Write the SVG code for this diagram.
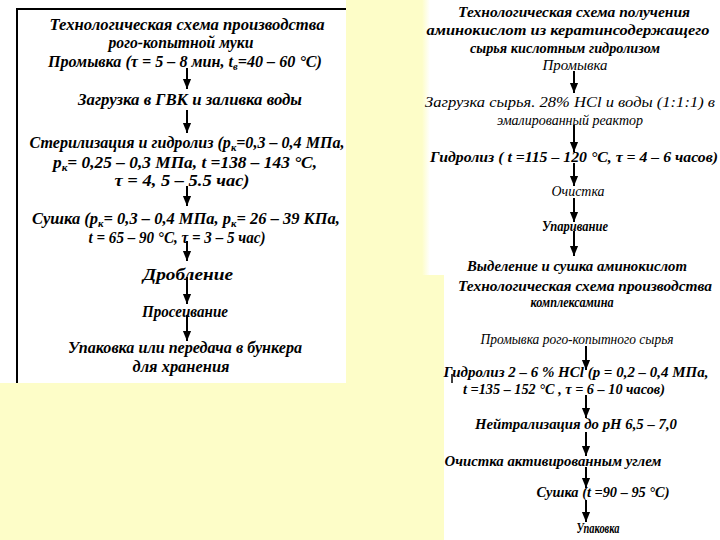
<svg xmlns="http://www.w3.org/2000/svg" width="720" height="540" viewBox="0 0 720 540">
<defs>
<marker id="arr" markerUnits="userSpaceOnUse" markerWidth="10" markerHeight="12" refX="11" refY="4.5" orient="auto" viewBox="0 0 11 9">
<path d="M0,0 L11,4.5 L0,9 Z" fill="#000"/>
</marker>
<linearGradient id="fade" x1="0" x2="1" y1="0" y2="0">
<stop offset="0" stop-color="#fdfdc8"/>
<stop offset="1" stop-color="#ffffff"/>
</linearGradient>
</defs>
<style>
text{font-family:"Liberation Serif","DejaVu Serif","Times New Roman",serif;font-style:italic;font-weight:bold;fill:#000;text-anchor:middle}
.l{font-size:17px}
.r{font-size:15px}
.n{font-weight:normal}
.c line{stroke:#000;stroke-width:2;marker-end:url(#arr)}
</style>
<rect x="0" y="0" width="720" height="540" fill="#fdfdc8"/>
<rect x="0" y="0" width="346" height="383" fill="#fff"/>
<rect x="430" y="0" width="290" height="275" fill="#fff"/>
<rect x="422" y="0" width="8" height="275" fill="url(#fade)"/>
<rect x="444" y="275" width="276" height="265" fill="#fff"/>
<line x1="17" y1="8" x2="17" y2="383" stroke="#000" stroke-width="2"/>
<line x1="17" y1="9" x2="346" y2="9" stroke="#000" stroke-width="2"/>
<line x1="452" y1="374" x2="452" y2="383" stroke="#000" stroke-width="1.5"/>

<g id="left-title">
<text class="l" x="187" y="30" textLength="275" lengthAdjust="spacingAndGlyphs">Технологическая схема производства</text>
<text class="l" x="181" y="48" textLength="145" lengthAdjust="spacingAndGlyphs">рого-копытной муки</text>
</g>
<g id="l-promyvka"><text class="l" x="185" y="67" textLength="274" lengthAdjust="spacingAndGlyphs">Промывка (τ = 5 – 8 мин, t<tspan font-size="11" dy="3">в</tspan><tspan dy="-3">=40 – 60 °C)</tspan></text></g>
<g id="l-zagruzka"><text class="l" x="190" y="105" textLength="224" lengthAdjust="spacingAndGlyphs">Загрузка в ГВК и заливка воды</text></g>
<g id="l-steril">
<text class="l" x="187" y="148" textLength="315" lengthAdjust="spacingAndGlyphs">Стерилизация и гидролиз (p<tspan font-size="11" dy="3">к</tspan><tspan dy="-3">=0,3 – 0,4 МПа,</tspan></text>
<text class="l" x="185" y="168" textLength="264" lengthAdjust="spacingAndGlyphs">p<tspan font-size="11" dy="3">к</tspan><tspan dy="-3">= 0,25 – 0,3 МПа,  t =138 – 143 °C,</tspan></text>
<text class="l" x="182" y="186" textLength="135" lengthAdjust="spacingAndGlyphs">τ = 4, 5 – 5.5 час)</text>
</g>
<g id="l-sushka">
<text class="l" x="186" y="224" textLength="308" lengthAdjust="spacingAndGlyphs">Сушка (p<tspan font-size="11" dy="3">к</tspan><tspan dy="-3">= 0,3 – 0,4 МПа, p</tspan><tspan font-size="11" dy="3">к</tspan><tspan dy="-3">= 26 – 39 КПа,</tspan></text>
<text class="l" x="177" y="243" textLength="177" lengthAdjust="spacingAndGlyphs">t = 65 – 90 °C, τ = 3 – 5 час)</text>
</g>
<g id="l-drob"><text class="l" x="188" y="280" textLength="90" lengthAdjust="spacingAndGlyphs">Дробление</text></g>
<g id="l-prosev"><text class="l" x="185" y="317" textLength="86" lengthAdjust="spacingAndGlyphs">Просеивание</text></g>
<g id="l-upak">
<text class="l" x="185" y="353" textLength="234" lengthAdjust="spacingAndGlyphs">Упаковка или передача в бункера</text>
<text class="l" x="181" y="372" textLength="97" lengthAdjust="spacingAndGlyphs">для хранения</text>
</g>

<g id="rt-title">
<text class="r" x="574" y="17" textLength="232" lengthAdjust="spacingAndGlyphs">Технологическая схема получения</text>
<text class="r" x="568" y="35" textLength="283" lengthAdjust="spacingAndGlyphs">аминокислот из кератинсодержащего</text>
<text class="r" x="565" y="53" textLength="190" lengthAdjust="spacingAndGlyphs">сырья кислотным гидролизом</text>
</g>
<g id="rt-promyvka"><text class="r n" x="575" y="70" textLength="65" lengthAdjust="spacingAndGlyphs">Промывка</text></g>
<g id="rt-zagruzka">
<text class="r n" x="570" y="107" textLength="290" lengthAdjust="spacingAndGlyphs">Загрузка сырья. 28% HCl и воды (1:1:1) в</text>
<text class="r n" x="570" y="125" textLength="146" lengthAdjust="spacingAndGlyphs">эмалированный реактор</text>
</g>
<g id="rt-gidroliz"><text class="r" x="574" y="162" textLength="288" lengthAdjust="spacingAndGlyphs">Гидролиз ( t =115 – 120 °C, τ = 4 – 6 часов)</text></g>
<g id="rt-ochistka"><text class="r n" x="578" y="196" textLength="53" lengthAdjust="spacingAndGlyphs">Очистка</text></g>
<g id="rt-uparivanie"><text class="r" x="575" y="231" textLength="66" lengthAdjust="spacingAndGlyphs">Упаривание</text></g>
<g id="rt-vydelenie"><text class="r" x="577" y="271" textLength="220" lengthAdjust="spacingAndGlyphs">Выделение и сушка аминокислот</text></g>

<g id="rb-title">
<text class="r" x="585" y="291" textLength="254" lengthAdjust="spacingAndGlyphs">Технологическая схема производства</text>
<text class="r" x="572" y="307" textLength="83" lengthAdjust="spacingAndGlyphs">комплексамина</text>
</g>
<g id="rb-promyvka"><text class="r n" x="577" y="344" textLength="193" lengthAdjust="spacingAndGlyphs">Промывка рого-копытного сырья</text></g>
<g id="rb-gidroliz">
<text class="r" x="576" y="377" textLength="265" lengthAdjust="spacingAndGlyphs">Гидролиз  2 – 6 % HCl (p = 0,2 – 0,4 МПа,</text>
<text class="r" x="564" y="394" textLength="202" lengthAdjust="spacingAndGlyphs">t =135 – 152 °C , τ = 6 – 10 часов)</text>
</g>
<g id="rb-neitr"><text class="r" x="576" y="429" textLength="202" lengthAdjust="spacingAndGlyphs">Нейтрализация до pH 6,5 – 7,0</text></g>
<g id="rb-ochistka"><text class="r" x="553" y="466" textLength="217" lengthAdjust="spacingAndGlyphs">Очистка активированным углем</text></g>
<g id="rb-sushka"><text class="r" x="603" y="497" textLength="133" lengthAdjust="spacingAndGlyphs">Сушка (t =90 – 95 °C)</text></g>
<g id="rb-upakovka"><text class="r" x="598" y="533" textLength="43" lengthAdjust="spacingAndGlyphs">Упаковка</text></g>

<g id="connectors" class="c">
<line x1="187" y1="68" x2="187" y2="89"/>
<line x1="187" y1="110" x2="187" y2="133"/>
<line x1="187" y1="186" x2="187" y2="206"/>
<line x1="187" y1="241" x2="187" y2="261"/>
<line x1="187" y1="277" x2="187" y2="304"/>
<line x1="187" y1="315" x2="187" y2="341"/>
<line x1="574" y1="71" x2="574" y2="93"/>
<line x1="574" y1="125" x2="574" y2="152"/>
<line x1="574" y1="163" x2="574" y2="186"/>
<line x1="574" y1="198" x2="574" y2="222"/>
<line x1="574" y1="231" x2="574" y2="256"/>
<line x1="586" y1="346" x2="586" y2="370"/>
<line x1="586" y1="395" x2="586" y2="418"/>
<line x1="586" y1="432" x2="586" y2="456"/>
<line x1="586" y1="467" x2="586" y2="488"/>
<line x1="586" y1="500" x2="586" y2="522"/>
</g>
</svg>
